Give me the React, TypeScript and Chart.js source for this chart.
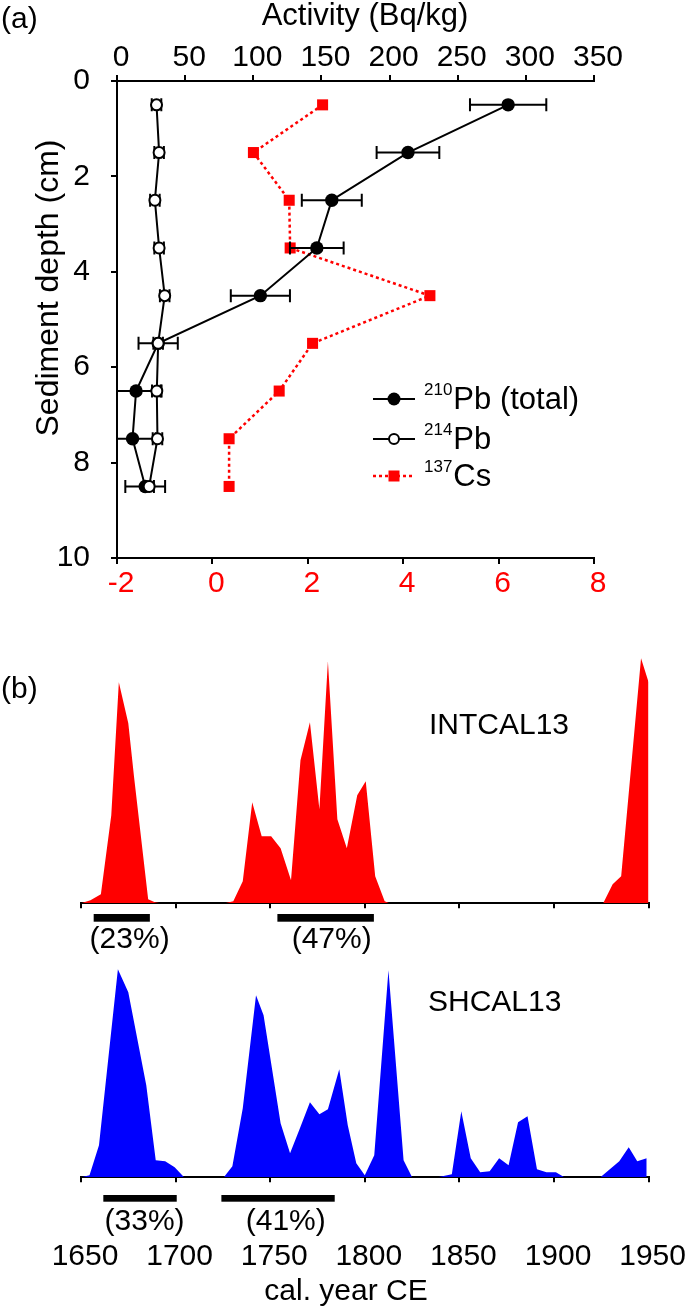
import React, { useEffect, useRef } from 'react';
import { Chart, registerables } from 'chart.js';

Chart.register(...registerables);

const FONT = '"Liberation Sans", Arial, Helvetica, sans-serif';
Chart.defaults.font.family = FONT;

// ---------------- Panel (a) data ----------------
const depthCm = [0.5, 1.5, 2.5, 3.5, 4.5, 5.5, 6.5, 7.5, 8.5];
const pb210Total = [287, 213.5, 157.6, 146.6, 105.2, 30.2, 14, 11.4, 20.7];
const pb210Err = [28, 23, 22, 19.7, 21.7, 14.4, 18, 17, 14.6];
const pb214 = [29, 30.9, 27.8, 30.9, 35, 30.2, 29.2, 29.7, 23.6];
const pb214Err = [3.5, 3.5, 3.5, 3.5, 3.5, 3.5, 3.5, 3.5, 3.5];
const cs137 = [2.31, 0.86, 1.61, 1.63, 4.56, 2.1, 1.4, 0.35, 0.35];
const activityTicks = [0, 50, 100, 150, 200, 250, 300, 350];
const csTicks = [-2, 0, 2, 4, 6, 8];
const depthTicks = [0, 2, 4, 6, 8, 10];

// ---------------- Panel (b) data ----------------
const intcalYears = [1650, 1655, 1660.5, 1666, 1670, 1675, 1678, 1685.5, 1689, 1692, 1726, 1730.5, 1735.5, 1740.5, 1745.5, 1750.5, 1755.5, 1761, 1766, 1771, 1776, 1780.5, 1785.5, 1790.5, 1796, 1800.5, 1805.5, 1810.5, 1813, 1926, 1931, 1935.5, 1946, 1950];
const intcalProb = [0, 3, 9, 88, 221, 180, 127, 4, 1, 0, 0, 2, 22, 101, 67, 67, 55, 23, 143, 181, 94, 242, 84, 55, 108, 122, 27, 2, 0, 0, 19, 27, 245, 221];
const shcalYears = [1650, 1654.5, 1659.5, 1669.5, 1675, 1684.5, 1689.5, 1694.5, 1699.5, 1704.5, 1725.5, 1730, 1735.5, 1742.5, 1746.5, 1755.5, 1760.5, 1765.5, 1771, 1776, 1780.5, 1786.5, 1791, 1795.5, 1800, 1805, 1812.5, 1820.5, 1825, 1838.5, 1846, 1851, 1856, 1861, 1866, 1871, 1876, 1881, 1886, 1891, 1896, 1901, 1905.5, 1924.5, 1934.5, 1939.5, 1944, 1949];
const shcalProb = [0, 2, 32, 208, 185, 92, 17, 16, 10, 0, 0, 11, 69, 182, 162, 54, 24, 48, 75, 63, 68, 108, 52, 14, 2, 22, 207, 17, 0, 0, 3, 66, 19, 5, 6, 19, 12, 55, 61, 8, 5, 5, 0, 0, 16, 30, 16, 19];
const yearTicks = [1650, 1700, 1750, 1800, 1850, 1900, 1950];

const intcalRangeFrom = [1656.7, 1753.8];
const intcalRangeTo = [1686.4, 1804.8];
const intcalRangeText = ['(23%)', '(47%)'];
const intcalRangeLabelAt = [1675.7, 1782.5];

const shcalRangeFrom = [1661.8, 1724.2];
const shcalRangeTo = [1700.6, 1784.1];
const shcalRangeText = ['(33%)', '(41%)'];
const shcalRangeLabelAt = [1683.6, 1758.2];

// ---------------- helpers ----------------
const W = 685;
const bigFont = { family: FONT, size: 30, lineHeight: 1 };

function axisLines(tickLength: number) {
  return {
    grid: { display: true, drawOnChartArea: false, drawTicks: true, tickLength, color: '#000', lineWidth: 2 },
    border: { display: true, color: '#000', width: 2 },
  };
}

function fixedTicks(values: number[]) {
  return (scale: any) => {
    scale.ticks = values.map((v) => ({ value: v }));
  };
}

const plainLabel = (v: any) => String(v);

function fixH(h: number) {
  return (s: any) => {
    s.height = h;
    s.paddingLeft = 0;
    s.paddingRight = 0;
  };
}
function fixW(w: number) {
  return (s: any) => {
    s.width = w;
    s.paddingTop = 0;
    s.paddingBottom = 0;
  };
}

// error bars drawn just before each Pb dataset
const errorBarPlugin = {
  id: 'errorBars',
  beforeDatasetDraw(chart: any, args: any) {
    const ds = chart.data.datasets[args.index];
    if (!ds.errors) return;
    const xs = chart.scales[ds.xAxisID];
    const ys = chart.scales.y;
    const a = chart.chartArea;
    const ctx = chart.ctx;
    ctx.save();
    ctx.beginPath();
    ctx.rect(a.left, a.top, a.right - a.left, a.bottom - a.top);
    ctx.clip();
    ctx.strokeStyle = '#000';
    ctx.lineWidth = 2;
    ds.data.forEach((p: any, i: number) => {
      const e = ds.errors[i];
      const x1 = xs.getPixelForValue(p.x - e);
      const x2 = xs.getPixelForValue(p.x + e);
      const y = ys.getPixelForValue(p.y);
      ctx.beginPath();
      ctx.moveTo(x1, y);
      ctx.lineTo(x2, y);
      ctx.moveTo(x1, y - 6.5);
      ctx.lineTo(x1, y + 6.5);
      ctx.moveTo(x2, y - 6.5);
      ctx.lineTo(x2, y + 6.5);
      ctx.stroke();
    });
    ctx.restore();
  },
};

const legendRows = [
  { sup: '210', main: 'Pb (total)', kind: 'filled' },
  { sup: '214', main: 'Pb', kind: 'open' },
  { sup: '137', main: 'Cs', kind: 'square' },
];

const panelAPlugin = {
  id: 'panelAText',
  afterDraw(chart: any) {
    const ctx = chart.ctx;
    ctx.save();
    ctx.fillStyle = '#000';
    ctx.textBaseline = 'middle';
    ctx.textAlign = 'left';
    ctx.font = `30px ${FONT}`;
    ctx.fillText('(a)', 1, 20);

    // top-axis title
    ctx.textAlign = 'center';
    ctx.font = `31px ${FONT}`;
    ctx.fillText('Activity (Bq/kg)', 365, 16);

    // y-axis title
    ctx.save();
    ctx.translate(49, 288);
    ctx.rotate(-Math.PI / 2);
    ctx.textAlign = 'center';
    ctx.font = `32px ${FONT}`;
    ctx.fillText('Sediment depth (cm)', 0, 0);
    ctx.restore();

    const rowY = [399, 439, 476];
    legendRows.forEach((r, i) => {
      const y = rowY[i];
      const red = r.kind === 'square';
      ctx.beginPath();
      ctx.strokeStyle = red ? '#ff0000' : '#000';
      ctx.lineWidth = red ? 2.5 : 2;
      ctx.setLineDash(red ? [3, 3] : []);
      ctx.moveTo(373, y);
      ctx.lineTo(415, y);
      ctx.stroke();
      ctx.setLineDash([]);
      if (r.kind === 'filled') {
        ctx.beginPath();
        ctx.fillStyle = '#000';
        ctx.arc(394, y, 6.5, 0, Math.PI * 2);
        ctx.fill();
      } else if (r.kind === 'open') {
        ctx.beginPath();
        ctx.fillStyle = '#fff';
        ctx.strokeStyle = '#000';
        ctx.lineWidth = 2;
        ctx.arc(394, y, 5, 0, Math.PI * 2);
        ctx.fill();
        ctx.stroke();
      } else {
        ctx.fillStyle = '#ff0000';
        ctx.fillRect(394 - 5.5, y - 5.5, 11, 11);
      }
      ctx.fillStyle = '#000';
      ctx.font = `17px ${FONT}`;
      ctx.textAlign = 'left';
      ctx.fillText(r.sup, 424, y - 9);
      const w = ctx.measureText(r.sup).width;
      ctx.font = `31px ${FONT}`;
      ctx.fillText(r.main, 424 + w + 1, y + 1);
    });
    ctx.restore();
  },
};

function panelAConfig(height: number): any {
  return {
    type: 'scatter',
    data: {
      datasets: [
        {
          label: '214Pb',
          data: depthCm.map((d, i) => ({ x: pb214[i], y: d })),
          errors: pb214Err,
          xAxisID: 'x',
          yAxisID: 'y',
          showLine: true,
          borderColor: '#000',
          borderWidth: 2,
          pointRadius: 5.5,
          pointBackgroundColor: '#fff',
          pointBorderColor: '#000',
          pointBorderWidth: 2,
          tension: 0,
          clip: false,
          order: 1,
        },
        {
          label: '210Pb (total)',
          data: depthCm.map((d, i) => ({ x: pb210Total[i], y: d })),
          errors: pb210Err,
          xAxisID: 'x',
          yAxisID: 'y',
          showLine: true,
          borderColor: '#000',
          borderWidth: 2,
          pointRadius: 6.7,
          pointBackgroundColor: '#000',
          pointBorderColor: '#000',
          pointBorderWidth: 0,
          tension: 0,
          clip: false,
          order: 2,
        },
        {
          label: '137Cs',
          data: depthCm.map((d, i) => ({ x: cs137[i], y: d })),
          xAxisID: 'x2',
          yAxisID: 'y',
          showLine: true,
          borderColor: '#ff0000',
          borderWidth: 2.5,
          borderDash: [3, 3],
          pointStyle: 'rect',
          pointRadius: 7.8,
          pointBackgroundColor: '#ff0000',
          pointBorderColor: '#ff0000',
          pointBorderWidth: 0,
          tension: 0,
          clip: false,
          order: 3,
        },
      ],
    },
    options: {
      responsive: false,
      animation: false,
      devicePixelRatio: 1,
      layout: { padding: { left: 0, right: 91, top: 0, bottom: 0 } },
      plugins: { legend: { display: false }, tooltip: { enabled: false } },
      scales: {
        x: {
          type: 'linear',
          position: 'top',
          min: 0,
          max: 350,
          afterBuildTicks: fixedTicks(activityTicks),
          afterFit: fixH(81),
          ticks: { font: bigFont, color: '#000', padding: 2, labelOffset: 4, autoSkip: false, maxRotation: 0, callback: plainLabel },
          ...axisLines(6),
        },
        x2: {
          type: 'linear',
          position: 'bottom',
          min: -2,
          max: 8,
          afterBuildTicks: fixedTicks(csTicks),
          afterFit: fixH(height - 558),
          ticks: { font: bigFont, color: '#ff0000', padding: 5, labelOffset: 4, autoSkip: false, maxRotation: 0, callback: plainLabel },
          ...axisLines(6),
        },
        y: {
          type: 'linear',
          position: 'left',
          reverse: true,
          min: 0,
          max: 10,
          afterBuildTicks: fixedTicks(depthTicks),
          afterFit: fixW(117),
          ticks: { font: bigFont, color: '#000', padding: 21, autoSkip: false, callback: plainLabel },
          ...axisLines(6),
        },
      },
    },
    plugins: [errorBarPlugin, panelAPlugin],
  };
}

interface CalOpts {
  years: number[];
  probs: number[];
  color: string;
  yMax: number;
  height: number;
  bottomY: number;
  showYears: boolean;
  from: number[];
  to: number[];
  text: string[];
  labelAt: number[];
  barOffset: number;
  barH: number;
  labelOffset: number;
  name: string;
  nameX: number;
  nameY: number;
  extras: { text: string; x: number; y: number; align: string }[];
}

function calConfig(o: CalOpts): any {
  const plugin = {
    id: 'cal' + o.name,
    afterDraw(chart: any) {
      const ctx = chart.ctx;
      const xs = chart.scales.x;
      const bottom = chart.chartArea.bottom;
      ctx.save();
      ctx.fillStyle = '#000';
      ctx.font = `30px ${FONT}`;
      ctx.textBaseline = 'middle';
      o.from.forEach((f, i) => {
        const x1 = xs.getPixelForValue(f);
        const x2 = xs.getPixelForValue(o.to[i]);
        ctx.fillRect(x1, bottom + o.barOffset, x2 - x1, o.barH);
        ctx.textAlign = 'center';
        ctx.fillText(o.text[i], xs.getPixelForValue(o.labelAt[i]), bottom + o.labelOffset);
      });
      ctx.textAlign = 'left';
      ctx.fillText(o.name, o.nameX, o.nameY);
      o.extras.forEach((e) => {
        ctx.textAlign = e.align;
        ctx.fillText(e.text, e.x, e.y);
      });
      ctx.restore();
    },
  };
  return {
    type: 'line',
    data: {
      datasets: [
        {
          label: o.name,
          data: o.years.map((y, i) => ({ x: y, y: o.probs[i] })),
          fill: 'origin',
          backgroundColor: o.color,
          borderColor: 'rgba(0,0,0,0)',
          borderWidth: 0,
          pointRadius: 0,
          tension: 0,
        },
      ],
    },
    options: {
      responsive: false,
      animation: false,
      devicePixelRatio: 1,
      layout: { padding: { left: 81, right: 36.4, top: o.bottomY - o.yMax, bottom: 0 } },
      plugins: { legend: { display: false }, tooltip: { enabled: false } },
      scales: {
        x: {
          type: 'linear',
          position: 'bottom',
          min: 1650,
          max: 1950,
          z: 1,
          afterBuildTicks: fixedTicks(yearTicks),
          afterFit: fixH(o.height - o.bottomY),
          ticks: { display: o.showYears, font: bigFont, color: '#000', padding: 59, labelOffset: 4, autoSkip: false, maxRotation: 0, callback: plainLabel },
          ...axisLines(5),
        },
        y: { display: false, min: 0, max: o.yMax },
      },
    },
    plugins: [plugin],
  };
}

function ChartCanvas({ top, height, make }: { top: number; height: number; make: () => any }) {
  const ref = useRef<HTMLCanvasElement>(null);
  useEffect(() => {
    const chart = new Chart(ref.current as HTMLCanvasElement, make());
    return () => chart.destroy();
  }, []);
  return (
    <canvas
      ref={ref}
      width={W}
      height={height}
      style={{ position: 'absolute', left: 0, top, width: W, height, display: 'block' }}
    />
  );
}

export default function App() {
  const aH = 620;
  const b1Top = 635;
  const b1H = 320;
  const b2Top = 955;
  const b2H = 355;
  return (
    <div style={{ position: 'absolute', left: 0, top: 0, width: W, height: 1310, background: '#fff', overflow: 'hidden' }}>
      <ChartCanvas top={0} height={aH} make={() => panelAConfig(aH)} />
      <ChartCanvas
        top={b1Top}
        height={b1H}
        make={() =>
          calConfig({
            years: intcalYears,
            probs: intcalProb,
            color: '#ff0000',
            yMax: 250,
            height: b1H,
            bottomY: 903.3 - b1Top,
            showYears: false,
            from: intcalRangeFrom,
            to: intcalRangeTo,
            text: intcalRangeText,
            labelAt: intcalRangeLabelAt,
            barOffset: 10.7,
            barH: 7.7,
            labelOffset: 36.7,
            name: 'INTCAL13',
            nameX: 429,
            nameY: 726 - b1Top,
            extras: [{ text: '(b)', x: 1, y: 690 - b1Top, align: 'left' }],
          })
        }
      />
      <ChartCanvas
        top={b2Top}
        height={b2H}
        make={() =>
          calConfig({
            years: shcalYears,
            probs: shcalProb,
            color: '#0000ff',
            yMax: 215,
            height: b2H,
            bottomY: 1177.3 - b2Top,
            showYears: true,
            from: shcalRangeFrom,
            to: shcalRangeTo,
            text: shcalRangeText,
            labelAt: shcalRangeLabelAt,
            barOffset: 17.7,
            barH: 6.7,
            labelOffset: 44.7,
            name: 'SHCAL13',
            nameX: 428,
            nameY: 1003 - b2Top,
            extras: [{ text: 'cal. year CE', x: 346, y: 1291.5 - b2Top, align: 'center' }],
          })
        }
      />
    </div>
  );
}
